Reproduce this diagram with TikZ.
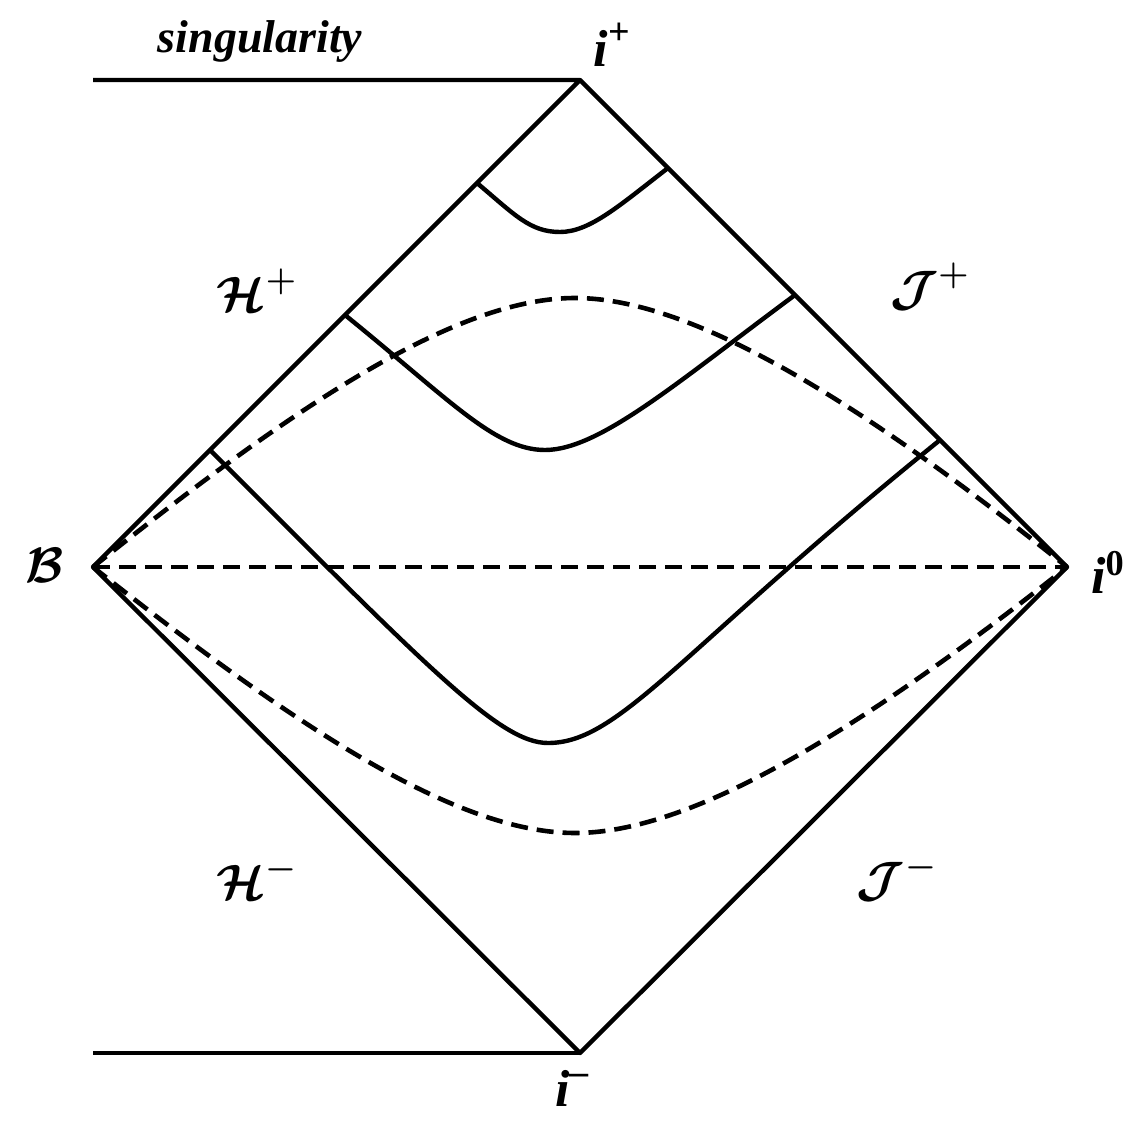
\documentclass[tikz,border=0pt]{standalone}
\usepackage{fontspec}
\setmainfont{Liberation Serif}
\usepackage{amsmath}
\usepackage{bm}
\newcommand{\supmark}[1]{\raisebox{0.42em}{\fontsize{19}{20}\selectfont\bfseries\upshape #1}}
\begin{document}
\begin{tikzpicture}[x=0.5pt,y=-0.5pt,
  solidline/.style={line width=2.2pt,line join=round},
  dashline/.style={line width=2.3pt,dash pattern=on 8.5pt off 4.5pt},
  lbl/.style={inner sep=0pt,font=\fontsize{26}{30}\selectfont\bfseries\itshape},
  cal/.style={inner sep=0pt,font=\fontsize{27}{30}\selectfont}]
\useasboundingbox (0,0) rectangle (1130,1123);
% corners
\coordinate (B) at (93,567);
\coordinate (ip) at (580,80);
\coordinate (io) at (1067,567);
\coordinate (im) at (580,1053);
\coordinate (ts) at (93,80);
\coordinate (bs) at (93,1053);
% ends of curves on the horizons
\coordinate (a1) at (477,183);
\coordinate (a2) at (668,168);
\coordinate (b1) at (345,315);
\coordinate (b2) at (795,295);
\coordinate (c1) at (210,450);
\coordinate (c2) at (940,440);
% diamond and singularities
\draw[solidline] (ts) -- (ip) -- (io) -- (im) -- (B) -- (ip);
\draw[solidline] (bs) -- (im);
% dashed slices
\draw[dashline] (B) -- (io);
\draw[dashline] (B) .. controls (293,407) and (455,298) .. (575,298)
  .. controls (695,298) and (867,407) .. (io);
\draw[dashline] (B) .. controls (293,725) and (455,833) .. (575,833)
  .. controls (695,833) and (867,725) .. (io);
% solid slices
\draw[solidline] (a1) .. controls (515,215) and (530,232) .. (560,232)
  .. controls (590,232) and (620,205) .. (a2);
\draw[solidline] (b1) .. controls (450,400) and (495,450) .. (545,450)
  .. controls (600,450) and (680,380) .. (b2);
\draw[solidline] (c1) .. controls (430,670) and (500,743) .. (548,743)
  .. controls (620,743) and (680,650) .. (c2);
% labels
\node[lbl,font=\fontsize{23}{26}\selectfont\bfseries\itshape] (sing) at (260,42) {singularity};
\node[lbl] (lip) at (612,45) {i\supmark{+}};
\node[lbl] (lio) at (1108,572) {i\textsuperscript{\bfseries\upshape 0}};
\node[lbl] (lim) at (572,1088) {i\supmark{–}};
\node[cal] (lB) at (45,565) {$\bm{\mathcal{B}}$};
\node[cal] (lHp) at (257,290) {$\bm{\mathcal{H}}^{\bm{+}}$};
\node[cal] (lJp) at (930,287) {$\bm{\mathcal{J}}^{\bm{+}}$};
\node[cal] (lHm) at (257,878) {$\bm{\mathcal{H}}^{\bm{-}}$};
\node[cal] (lJm) at (897,878) {$\bm{\mathcal{J}}^{\bm{-}}$};
\end{tikzpicture}
\end{document}
